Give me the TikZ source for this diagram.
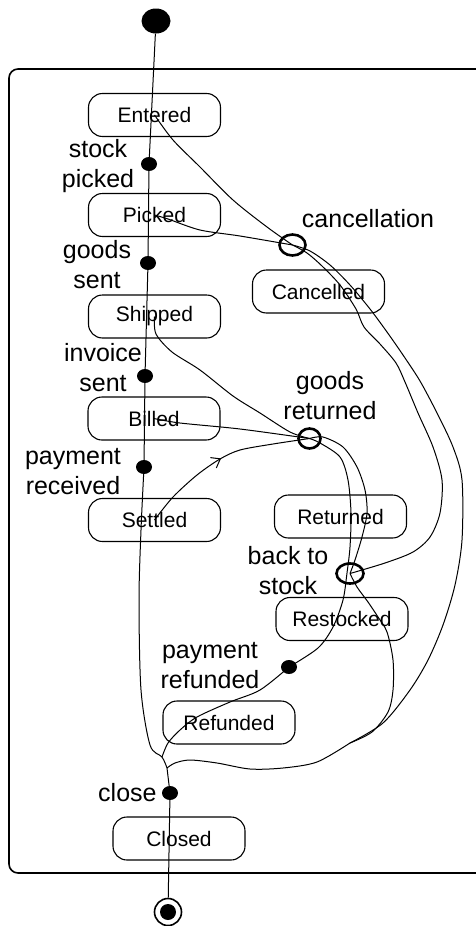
\documentclass[tikz,border=0pt]{standalone}
\usepackage{fontspec}
\setmainfont{Liberation Sans}
\usetikzlibrary{positioning,shapes.geometric,decorations.markings,arrows.meta}
\tikzset{
  state/.style={draw,rounded corners=14pt,line width=1.1pt,minimum width=132pt,minimum height=43pt,inner sep=0pt,font=\fontsize{21}{25}\selectfont},
  bar/.style={fill,ellipse,minimum width=16pt,minimum height=14pt,inner sep=0pt},
  junction/.style={draw,ellipse,line width=2.6pt,inner sep=0pt},
  lbl/.style={align=center,inner sep=0pt,font=\fontsize{25}{30}\selectfont},
  flow/.style={line width=1pt},
  startdot/.style={fill,ellipse,minimum width=29pt,minimum height=25pt,inner sep=0pt},
  enddot/.style={draw,circle,line width=1.6pt,minimum size=27pt,inner sep=0pt,
    path picture={\fill (path picture bounding box.center) circle (8pt);}},
  midarrow/.style={
    decoration={markings,
      mark=at position #1 with {\arrow{Straight Barb[length=8pt,width=12pt]}}
    },
    postaction={decorate}
  }
}
\begin{document}
\begin{tikzpicture}[x=1pt,y=-1pt]
  \useasboundingbox (0,0) rectangle (475,926);
  \draw[line width=1.6pt,rounded corners=9pt] (9,69) rectangle (520,873);
  \node[startdot] (init) at (156,21) {};
  \node[enddot] (final) at (168,912) {};
  \foreach \name/\x/\y/\txt in {
    entered/154.5/115/Entered, picked/154.5/215/Picked, shipped/154.5/316.5/Shipped,
    billed/154/418.5/Billed, settled/154.5/520/Settled, cancelled/318.5/291.5/Cancelled,
    returned/340.5/516.5/Returned, restocked/342/619/Restocked,
    refunded/229/722.5/Refunded, closed/179/838.5/Closed
  } \node[state] (\name) at (\x,\y) {\txt};
  \foreach \name/\x/\y in {
    picking/149/164, sending/148/263, invoicing/145/376,
    paying/144/467, refunding/289/667, closing/170/793
  } \node[bar] (\name) at (\x,\y) {};
  \node[junction,minimum width=26pt,minimum height=21pt] (cancel) at (292.5,245) {};
  \node[junction,minimum width=22pt,minimum height=20pt] (goodsback) at (309.5,438.5) {};
  \node[junction,minimum width=27pt,minimum height=20pt] (tostock) at (350,573.5) {};
  \node[lbl] (lpicking) at (98,166) {stock\\picked};
  \node[lbl] (lsending) at (97,265) {goods\\sent};
  \node[lbl] (linvoicing) at (103,368) {invoice\\sent};
  \node[lbl] (lpaying) at (73,472) {payment\\received};
  \node[lbl] (lcancel) at (368,219) {cancellation};
  \node[lbl] (lgoodsback) at (330,396) {goods\\returned};
  \node[lbl] (ltostock) at (288,571) {back to\\stock};
  \node[lbl] (lrefunding) at (210,666) {payment\\refunded};
  \node[lbl,left=5pt of closing] (lclosing) {close};
  \coordinate (merge) at (350,743);
  \coordinate (k) at (162,757);
  \coordinate (j) at (167,768);
  % main line
  \draw[flow] (init) -- (picking) -- (sending) -- (invoicing) -- (paying);
  \draw[flow] plot[smooth] coordinates {(paying) (141,530) (139,600) (141,690) (150,745) (k) (j)} -- (closing);
  \draw[flow] (closing) -- (final);
  % cancellation
  \draw[flow] plot[smooth] coordinates {(entered.center) (173,140) (200,167) (233,200) (267,227) (cancel)};
  \draw[flow] plot[smooth] coordinates {(picked.center) (168,219) (200,230) (240,236) (cancel)};
  \draw[flow] plot[smooth] coordinates {(cancel) (310,251) (330,265) (350,285) (370,309) (387,332)
    (403,355) (420,381) (437,413) (453,447) (462,480) (462,540) (455,585) (443,625) (428,660)
    (410,690) (383,723) (merge)};
  \draw[flow] plot[smooth] coordinates {(cancel) (307,253) (322,266) (340,285) (356,309) (364,327)
    (380,344) (396,363) (405,382) (418,413) (433,447) (442,480) (440,513) (430,537) (413,552)
    (385,563) (tostock)};
  % goods returned
  \draw[flow] plot[smooth] coordinates {(shipped.center) (156,334) (172,352) (200,370) (233,396) (260,413) (290,432) (goodsback)};
  \draw[flow] plot[smooth] coordinates {(billed.center) (180,423) (240,429) (goodsback)};
  \draw[flow,midarrow=0.5] plot[smooth] coordinates {(settled.center) (173,497) (197,475) (220,459) (240,450) (273,444) (goodsback)};
  \draw[flow] plot[smooth] coordinates {(goodsback) (323,437) (343,447) (357,467) (365,490) (367,513) (362,537) (355,560) (tostock)};
  \draw[flow] plot[smooth] coordinates {(goodsback) (320,443) (340,457) (348,480) (351,513) (350,547)
    (347,573) (343,600) (333,627) (318,648) (refunding)};
  % back to stock, refund, close
  \draw[flow] plot[smooth] coordinates {(tostock) (357,587) (368,602) (378,617) (387,632) (393,660)
    (393,690) (388,712) (372,732) (merge)};
  \draw[flow] plot[smooth] coordinates {(merge) (317,762) (283,768) (250,769) (217,763) (190,760) (175,763) (j)};
  \draw[flow] plot[smooth] coordinates {(refunding) (260,690) (230,702) (197,717) (180,730) (168,743) (k)};
\end{tikzpicture}
\end{document}
